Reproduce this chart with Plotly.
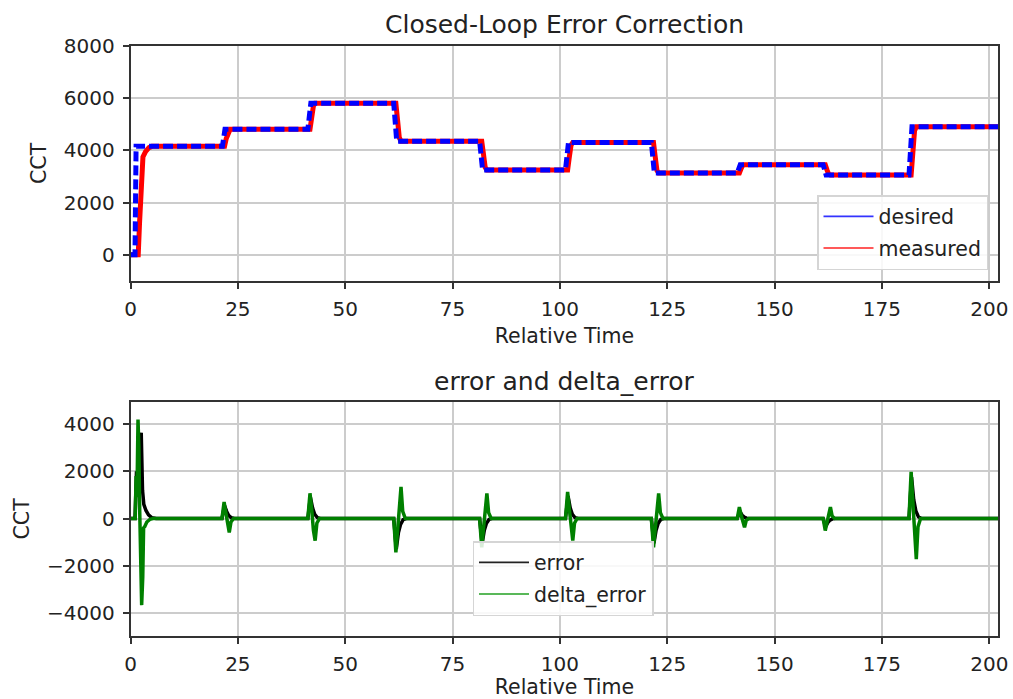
import plotly.graph_objects as go

# Set-point and measured colour temperature (CCT) over relative time
desired_time = [0, 1.05, 1.3, 21.4, 22.0, 41.3, 42.0, 61.3, 62.0, 81.3, 82.0,
                101.3, 102.0, 121.3, 122.0, 141.3, 142.0, 161.3, 162.0,
                181.3, 182.0, 202.1]
desired_cct = [0, 0, 4150, 4150, 4800, 4800, 5800, 5800, 4350, 4350, 3250,
               3250, 4300, 4300, 3130, 3130, 3450, 3450, 3050, 3050, 4900, 4900]

measured_time = [0, 1.8, 2.1, 2.4, 2.6, 2.9, 3.5, 4.3, 5.0,
                 21.9, 22.3, 22.8, 23.2,
                 41.8, 42.2, 42.6, 43.0,
                 61.8, 62.2, 62.6, 63.0,
                 81.8, 82.2, 82.6, 83.0,
                 101.8, 102.2, 102.6, 103.0,
                 121.8, 122.2, 122.6, 123.0,
                 141.8, 142.2, 142.6, 143.0,
                 161.8, 162.2, 162.6, 163.0,
                 181.8, 182.2, 182.6, 183.0,
                 202.1]
measured_cct = [0, 0, 1200, 2600, 3500, 3750, 3950, 4100, 4150,
                4150, 4450, 4720, 4800,
                4800, 5250, 5700, 5800,
                5800, 5150, 4480, 4350,
                4350, 3850, 3350, 3250,
                3250, 3750, 4200, 4300,
                4300, 3750, 3230, 3130,
                3130, 3300, 3430, 3450,
                3450, 3250, 3080, 3050,
                3050, 3900, 4750, 4900,
                4900]

# Controller error and its change between samples
error_time = [0, 1.05, 1.4, 1.8, 2.2, 2.5, 2.8, 3.1, 3.6, 4.2, 5.0, 6.0,
              21.3, 21.9, 22.4, 22.9, 23.5, 24.2,
              41.3, 41.9, 42.4, 42.9, 43.5, 44.2,
              61.3, 61.9, 62.4, 62.9, 63.5, 64.2,
              81.3, 81.9, 82.4, 82.9, 83.5, 84.2,
              101.3, 101.9, 102.4, 102.9, 103.5, 104.2,
              121.3, 121.9, 122.4, 122.9, 123.5, 124.2,
              141.3, 141.9, 142.4, 142.9, 143.5, 144.2,
              161.3, 161.9, 162.4, 162.9, 163.5, 164.2,
              181.3, 181.9, 182.4, 182.9, 183.5, 184.2,
              202.1]
error_cct = [0, 0, 2000, 1300, 3300, 3640, 1200, 600, 340, 150, 30, 0,
             0, 550, 300, 120, 30, 0,
             0, 900, 450, 180, 40, 0,
             0, -1300, -600, -250, -50, 0,
             0, -1050, -500, -200, -40, 0,
             0, 950, 450, 180, 40, 0,
             0, -1050, -500, -200, -40, 0,
             0, 300, 150, 60, 15, 0,
             0, -350, -170, -70, -15, 0,
             0, 1750, 800, 320, 70, 0,
             0]

delta_time = [0, 1.1, 1.3, 1.5, 1.75, 1.95, 2.15, 2.35, 2.6, 2.85, 3.05, 3.3, 3.8, 4.5, 5.2,
              21.3, 21.8, 22.2, 22.6, 23.0, 23.4, 24.0,
              41.3, 41.8, 42.2, 42.6, 43.0, 43.4, 44.0,
              61.3, 61.8, 62.2, 62.6, 63.0, 63.4, 64.0,
              81.3, 81.8, 82.2, 82.6, 83.0, 83.4, 84.0,
              101.3, 101.8, 102.2, 102.6, 103.0, 103.4, 104.0,
              121.3, 121.8, 122.2, 122.6, 123.0, 123.4, 124.0,
              141.3, 141.8, 142.2, 142.6, 143.0, 143.4, 144.0,
              161.3, 161.8, 162.2, 162.6, 163.0, 163.4, 164.0,
              181.3, 181.8, 182.2, 182.6, 183.0, 183.4, 184.0,
              202.1]
delta_cct = [0, 0, 1800, 900, 4200, 3000, 300, -1500, -3680, -2500, -400, -350, -150, -40, 0,
             0, 700, 250, -300, -590, -150, 0,
             0, 1070, 400, -500, -940, -200, 0,
             0, -1440, -500, 600, 1340, 300, 0,
             0, -1230, -450, 500, 1070, 250, 0,
             0, 1130, 400, -500, -940, -200, 0,
             0, -1230, -450, 500, 1070, 250, 0,
             0, 485, 150, -200, -370, -80, 0,
             0, -510, -170, 200, 485, 100, 0,
             0, 1980, 700, -900, -1725, -350, 0,
             0]

x_ticks = [0, 25, 50, 75, 100, 125, 150, 175, 200]
top_y_ticks = [0, 2000, 4000, 6000, 8000]
bottom_y_ticks = [-4000, -2000, 0, 2000, 4000]

FONT = "DejaVu Sans"
TXT = "#222222"
TICK_SIZE = 20
LABEL_SIZE = 20.5
TITLE_SIZE = 25
W, H = 1013, 699

fig = go.Figure()

# upper panel: thick plotted lines, thin legend samples
fig.add_trace(go.Scatter(x=measured_time, y=measured_cct, mode="lines",
                         line=dict(color="#ff0000", width=5), showlegend=False,
                         xaxis="x", yaxis="y"))
fig.add_trace(go.Scatter(x=desired_time, y=desired_cct, mode="lines",
                         line=dict(color="#0000ff", width=5, dash="10px,4px"),
                         showlegend=False, xaxis="x", yaxis="y"))
fig.add_trace(go.Scatter(x=[None], y=[None], mode="lines", name="desired",
                         line=dict(color="#3333ff", width=1.6), xaxis="x", yaxis="y",
                         legend="legend", legendgroup="a"))
fig.add_trace(go.Scatter(x=[None], y=[None], mode="lines", name="measured",
                         line=dict(color="#ff2222", width=1.6), xaxis="x", yaxis="y",
                         legend="legend", legendgroup="b"))

# lower panel
fig.add_trace(go.Scatter(x=error_time, y=error_cct, mode="lines",
                         line=dict(color="#000000", width=3.5), showlegend=False,
                         xaxis="x2", yaxis="y2"))
fig.add_trace(go.Scatter(x=delta_time, y=delta_cct, mode="lines",
                         line=dict(color="#008000", width=3.5), showlegend=False,
                         xaxis="x2", yaxis="y2"))
fig.add_trace(go.Scatter(x=[None], y=[None], mode="lines", name="error",
                         line=dict(color="#222222", width=1.6), xaxis="x2", yaxis="y2",
                         legend="legend2", legendgroup="c"))
fig.add_trace(go.Scatter(x=[None], y=[None], mode="lines", name="delta_error",
                         line=dict(color="#22a022", width=1.6), xaxis="x2", yaxis="y2",
                         legend="legend2", legendgroup="d"))

x_dom = [130.5 / W, 998.3 / W]
top_dom = [1 - 281 / H, 1 - 45.7 / H]
bot_dom = [1 - 636 / H, 1 - 401.7 / H]

axis_common = dict(
    showline=True, linecolor="#333333", linewidth=1.5, mirror=True,
    showgrid=True, gridcolor="#cccccc", gridwidth=1.5,
    ticks="outside", ticklen=6, tickwidth=1.5, tickcolor="#333333",
    zeroline=False, automargin=False,
    tickfont=dict(family=FONT, size=TICK_SIZE, color=TXT),
)

def xaxis(dom_anchor):
    return dict(axis_common, domain=x_dom, range=[0, 202.1], tickvals=x_ticks,
                anchor=dom_anchor, ticklabelstandoff=3,
                title=dict(text="Relative Time", standoff=9,
                           font=dict(family=FONT, size=LABEL_SIZE, color=TXT)))

def yaxis(dom, rng, ticks, anchor):
    return dict(axis_common, domain=dom, range=rng, tickvals=ticks,
                anchor=anchor, ticklabelstandoff=4,
                title=dict(text="CCT", standoff=12,
                           font=dict(family=FONT, size=LABEL_SIZE, color=TXT)))

legend_common = dict(
    bgcolor="rgba(255,255,255,0.85)", bordercolor="#d5d5d5", borderwidth=1.5,
    font=dict(family=FONT, size=LABEL_SIZE, color=TXT),
    tracegroupgap=2, itemwidth=50,
)

fig.update_layout(
    width=W, height=H, autosize=False,
    margin=dict(l=0, r=0, t=0, b=0),
    paper_bgcolor="white", plot_bgcolor="white",
    font=dict(family=FONT, color=TXT),
    xaxis=xaxis("y"),
    yaxis=yaxis(top_dom, [-1000, 8000], top_y_ticks, "x"),
    xaxis2=xaxis("y2"),
    yaxis2=yaxis(bot_dom, [-4990, 4960], bottom_y_ticks, "x2"),
    legend=dict(legend_common, x=988 / W, y=1 - 270 / H,
                xanchor="right", yanchor="bottom"),
    legend2=dict(legend_common, x=563 / W, y=1 - 616 / H,
                 xanchor="center", yanchor="bottom"),
    annotations=[
        dict(text="Closed-Loop Error Correction", x=564 / W, y=1 - 25 / H,
             xref="paper", yref="paper", showarrow=False,
             xanchor="center", yanchor="middle",
             font=dict(family=FONT, size=TITLE_SIZE, color=TXT)),
        dict(text="error and delta_error", x=564 / W, y=1 - 381 / H,
             xref="paper", yref="paper", showarrow=False,
             xanchor="center", yanchor="middle",
             font=dict(family=FONT, size=TITLE_SIZE, color=TXT)),
    ],
)

fig.write_html("out.html")
